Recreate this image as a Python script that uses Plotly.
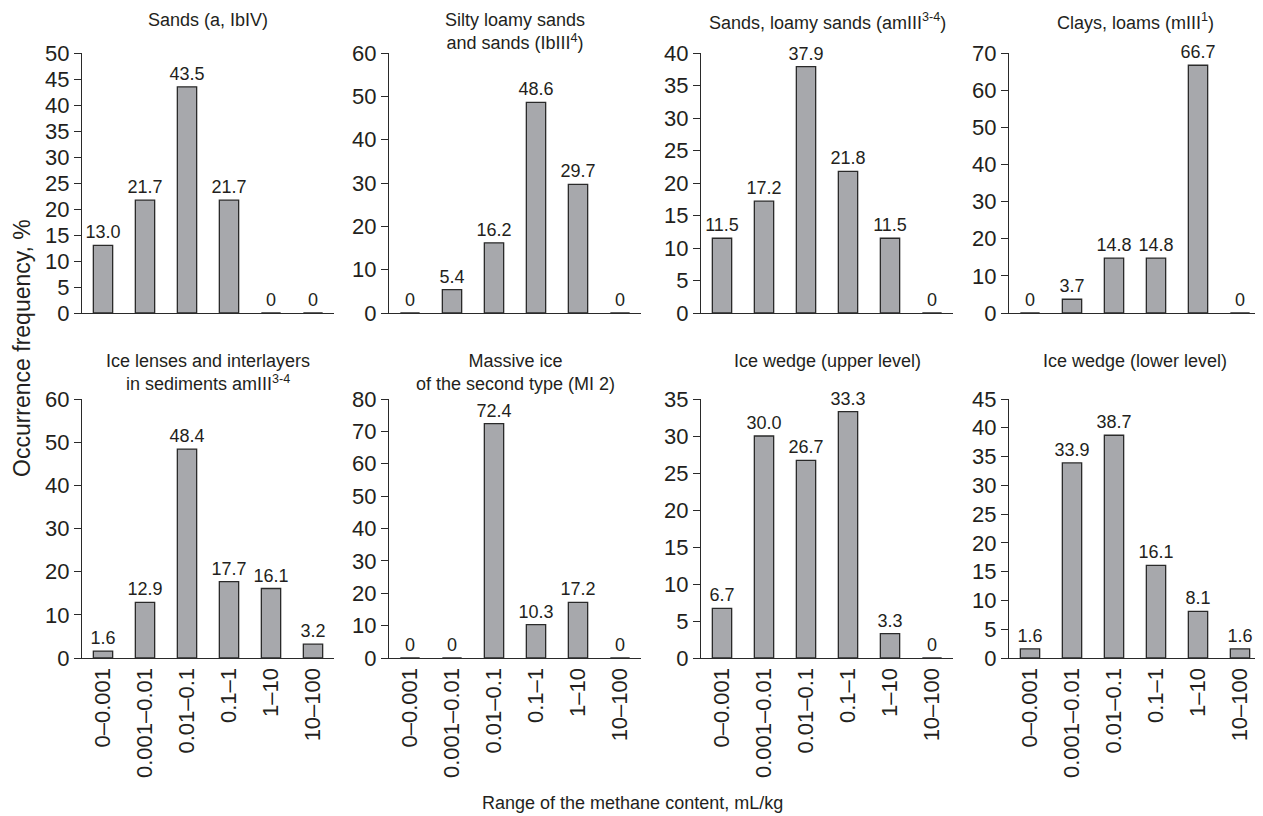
import plotly.graph_objects as go

categories = ["0–0.001", "0.001–0.01", "0.01–0.1", "0.1–1", "1–10", "10–100"]

titles = [
    "Sands (a, IbIV)",
    "Silty loamy sands<br>and sands (IbIII<sup>4</sup>)",
    "Sands, loamy sands (amIII<sup>3-4</sup>)",
    "Clays, loams (mIII<sup>1</sup>)",
    "Ice lenses and interlayers<br>in sediments amIII<sup>3-4</sup>",
    "Massive ice<br>of the second type (MI 2)",
    "Ice wedge (upper level)",
    "Ice wedge (lower level)",
]

sands_a = [13.0, 21.7, 43.5, 21.7, 0, 0]
silty_loamy = [0, 5.4, 16.2, 48.6, 29.7, 0]
sands_loamy = [11.5, 17.2, 37.9, 21.8, 11.5, 0]
clays_loams = [0, 3.7, 14.8, 14.8, 66.7, 0]
ice_lenses = [1.6, 12.9, 48.4, 17.7, 16.1, 3.2]
massive_ice = [0, 0, 72.4, 10.3, 17.2, 0]
wedge_upper = [6.7, 30.0, 26.7, 33.3, 3.3, 0]
wedge_lower = [1.6, 33.9, 38.7, 16.1, 8.1, 1.6]

series = [sands_a, silty_loamy, sands_loamy, clays_loams,
          ice_lenses, massive_ice, wedge_upper, wedge_lower]

y_max = [50, 60, 40, 70, 60, 80, 35, 45]
y_step = [5, 10, 5, 10, 10, 10, 5, 5]

# figure size; the page body adds an 8px offset, so pixel positions
# below are given in page pixels and shifted by OFF
W, H = 1263, 816
OFF = 8
col_left = [82, 389, 701, 1009]
plot_w = 252
row_top = [53, 399]
row_bot = [313, 658]


def px(x):
    return (x - OFF) / W


def py(y):
    return 1 - (y - OFF) / H


FONT = "Liberation Sans, Arial, sans-serif"
TXT = "#231f20"
BAR = "#a7a8ac"
EDGE = "#2a2a2a"

fig = go.Figure()
layout = dict(
    template="none",
    width=W, height=H,
    autosize=False,
    margin=dict(l=0, r=0, t=0, b=0, pad=0, autoexpand=False),
    paper_bgcolor="white", plot_bgcolor="white",
    showlegend=False,
    font=dict(family=FONT, color=TXT),
)
annotations = []

for i, vals in enumerate(series):
    r, c = divmod(i, 4)
    n = i + 1
    xa = "x" if n == 1 else f"x{n}"
    ya = "y" if n == 1 else f"y{n}"
    text = [("0" if v == 0 else f"{v:.1f}") for v in vals]
    fig.add_trace(go.Bar(
        x=categories, y=vals, xaxis=xa, yaxis=ya,
        marker=dict(color=BAR, line=dict(color=EDGE, width=1.3)),
        text=text, textposition="outside",
        textfont=dict(size=18, color=TXT, family=FONT),
        constraintext="none", cliponaxis=False,
        width=0.46,
    ))
    layout[f"xaxis{'' if n == 1 else n}"] = dict(
        domain=[px(col_left[c]), px(col_left[c] + plot_w)],
        anchor=ya, automargin=False,
        showline=True, linecolor=EDGE, linewidth=1.3,
        ticks="", showgrid=False, zeroline=False,
        showticklabels=(r == 1), tickangle=-90,
        tickfont=dict(size=22, color=TXT, family=FONT),
        type="category",
        range=[-0.5, 5.5],
    )
    layout[f"yaxis{'' if n == 1 else n}"] = dict(
        domain=[py(row_bot[r]), py(row_top[r])],
        anchor=xa, automargin=False,
        range=[0, y_max[i]], dtick=y_step[i], tick0=0,
        showline=True, linecolor=EDGE, linewidth=1.3,
        ticks="outside", ticklen=7, tickcolor=EDGE, tickwidth=1.2,
        showgrid=False, zeroline=False,
        tickfont=dict(size=22, color=TXT, family=FONT),
    )
    annotations.append(dict(
        text=titles[i], xref="paper", yref="paper",
        x=px(col_left[c] + plot_w / 2),
        y=py(8 if r == 0 else 349),
        xanchor="center", yanchor="top", showarrow=False,
        font=dict(size=18, color=TXT, family=FONT),
    ))

annotations.append(dict(
    text="Occurrence frequency, %", xref="paper", yref="paper",
    x=px(22), y=py(348), textangle=-90,
    xanchor="center", yanchor="middle", showarrow=False,
    font=dict(size=23, color=TXT, family=FONT),
))
annotations.append(dict(
    text="Range of the methane content, mL/kg", xref="paper", yref="paper",
    x=px(632), y=py(803),
    xanchor="center", yanchor="middle", showarrow=False,
    font=dict(size=18, color=TXT, family=FONT),
))

layout["annotations"] = annotations
fig.update_layout(**layout)
fig.write_html("out.html")
